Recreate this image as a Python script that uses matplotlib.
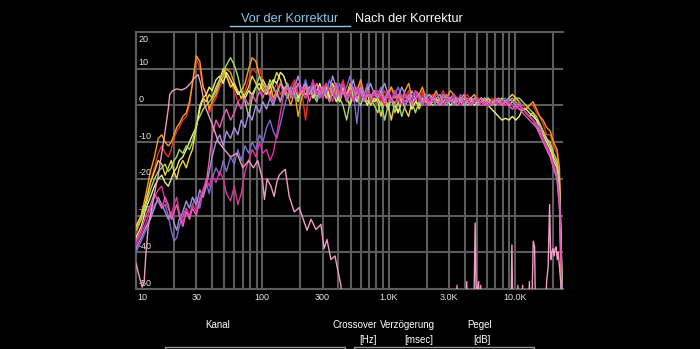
import matplotlib
matplotlib.use("Agg")
import matplotlib.pyplot as plt
from matplotlib.patches import Rectangle
from matplotlib.transforms import blended_transform_factory

plt.rcParams['font.family'] = ['Liberation Sans', 'DejaVu Sans']

# Frequenzraster (Hz), gemeinsam fuer die Hauptkanaele
freq = [10, 11, 12, 13, 14, 15, 16, 17, 18, 19, 20,
        21, 22, 23.5, 25, 26.5, 28, 30, 32, 34, 36, 38, 40,
        43, 46, 49, 52, 56, 60, 64, 68, 73, 78, 83, 89,
        95, 101, 108, 115, 122, 130, 139, 148, 158, 168, 180, 192, 205, 220, 236, 252, 270, 285,
        300, 320, 340, 360, 385, 410, 435, 465, 495, 525, 560, 600, 640, 680, 720, 770,
        820, 870, 930, 990, 1050, 1120, 1190, 1270, 1350, 1440, 1530, 1630, 1740, 1850, 1970, 2100,
        2240, 2380, 2540, 2700, 2880, 3070, 3270, 3480, 3700, 3950, 4200, 4480, 4770, 5080, 5410, 5760,
        6130, 6530, 6960, 7410, 7890, 8400, 8950, 9530, 10150, 10800, 11500, 12250,
        13000, 13900, 14800, 15700, 16700, 17800, 19000, 20200, 21500, 22500, 23300, 24000]

red = [-35, -31, -26, -21, -17, -13, -11, -13, -14, -12, -9,
       -7, -6, -4, -3, 0, 6, 13, 10, 5, 3, -2, 0,
       2, 5, 7, 8, 6, 4, 1, 2, 4, 7, 10, 9,
       10, 7, 5, 2, 4, 6, 3, 5, 2, 5, 7, 3, 4, -4, 5, 3, 6, 2,
       4, 6, 3, 5, 2, 4, 7, 3, 5, 2, 4, 6, 3, 5, 2, 4,
       3, 1, 4, 2, 5, 3, 1, 3, 2, 4, 1, 3, 2, 4, 1, 2,
       3, 1, 2, 4, 2, 1, 3, 2, 1, 2, 3, 1, 2, 1, 2, 0,
       1, 2, 0, 1, 2, 1, 0, 1, 2, 1, 0, -1,
       0, 0, -2, -3, -5, -8, -8, -11, -13, -20, -45, -60]

orange = [-33, -30, -24, -18, -14, -9, -8, -10, -11, -10, -8,
          -6, -5, -3, -2, 1, 6, 13.5, 12, 5, 3, -1, 1,
          3, 6, 8, 10, 9, 6, 3, 4, 6, 10, 13, 12,
          8, 5, 3, 6, 2, 4, 1, 5, 3, 0, 4, -3, 2, 5, 3, 6, 2, 4,
          3, 5, 2, 6, 4, 1, 5, 3, 6, 2, 4, 7, 3, 5, 2, 4,
          2, 4, 1, 3, 5, 2, 3, 1, 4, 6, 2, 4, 3, 5, 2, 3,
          2, 4, 1, 3, 2, 4, 3, 1, 2, 3, 1, 2, 3, 1, 2, 1,
          2, 0, 1, 2, 1, 0, 1, 2, 1, 0, -1, -1,
          0, 1, -1, -3, -4, -6, -7, -10, -12, -17, -40, -60]

yellow = [-33, -30, -26, -21, -18, -15, -16, -19, -17, -15, -18,
          -20, -17, -15, -17, -14, -12, -6, 0, 2, 1, 3, 2,
          5, 7, 10, 8, 5, 6, 4, 2, 3, 5, 8, 6,
          4, 7, 5, 3, 6, 9, 7, 4, 6, 3, 5, 2, 4, 6, 3, 5, 2, 4,
          5, 2, 4, 6, 3, 1, 4, 2, 5, 3, 1, 4, 2, 3, 0, 2,
          1, -3, 2, 0, -4, 1, -2, 2, -1, -3, 1, 2, -1, 1, 3, 0,
          2, 0, 1, 3, 1, 2, 0, 1, 2, 0, 1, 2, 1, 0, 1, 2,
          1, 0, 2, 1, 0, 1, 2, 3, 2, 1, -1, -2,
          -3, -2, -4, -5, -7, -9, -11, -14, -16, -22, -42, -60]

pale_yellow = [-36, -33, -28, -25, -22, -20, -19, -21, -22, -20, -18,
               -17, -15, -14, -12, -10, -8, -6, -1, 2, 3, 5, 4,
               7, 8, 6, 9, 7, 5, 3, 4, 2, 4, 3, 5,
               6, 4, 3, 5, 7, 6, 9, 8, 5, 3, 6, 2, 4, 3, 5, 2, 4, 6,
               3, 5, 2, 4, 1, 3, 5, 2, 0, 3, 1, 4, 2, 0, 3, 1,
               2, 0, 1, -1, 2, 0, -2, 1, 0, 2, -1, 1, 0, 2, 1, 0,
               1, 2, 0, 1, 2, 0, 1, 2, 1, 0, 1, 2, 0, 1, 2, 1,
               0, -1, -2, -3, -4, -3.5, -4, -3, -4, -3, -1, -1,
               -2, -3, -4, -6, -8, -10, -12, -15, -17, -24, -44, -60]

green = [-34, -31, -27, -23, -20, -18, -17, -16, -18, -17, -15,
         -14, -12, -13, -11, -12, -10, -5, -3, -1, 0, 1, 2,
         4, 7, 9, 11, 13, 11, 8, 4, 1, -3, 2, 5,
         8, 6, 4, 7, 5, 3, 6, 4, 2, 5, 3, 1, 4, 2, 5, 3, 1, 4,
         2, 4, 1, 3, 5, 2, 0, -4, 1, 4, 2, 0, 3, 1, 2, 0,
         -2, 1, -4, 0, 2, -2, 1, -3, 0, 2, 1, -2, 1, 0, 2, 1,
         0, 1, 2, 0, 1, 2, 1, 0, 1, 2, 0, 1, 2, 1, 0, 1,
         2, 1, 0, 1, 2, 1, 0, 1, 2, 2, 1, 0,
         -1, -2, -3, -5, -7, -9, -10, -13, -15, -21, -40, -60]

magenta = [-38, -35, -32, -28, -25, -23, -22, -26, -28, -30, -27,
           -25, -29, -32, -28, -30, -27, -29, -25, -23, -20, -22, -19,
           -21, -18, -20, -24, -26, -22, -27, -24, -18, -15, -12, -14,
           -10, -13, -12, -15, -13, -8, -2, 3, 5, 2, 6, 3, 5, 2, 4, 7, 3, 5,
           2, 6, 4, 1, 5, 3, 6, 2, 4, 1, 5, 3, 2, 4, 1, 3,
           4, 2, 0, 3, 1, 4, 2, 0, 3, 1, 2, 4, 1, 3, 0, 2,
           1, 3, 2, 0, 2, 1, 3, 2, 0, 1, 2, 0, 1, 2, 0, 1,
           0, 1, 2, 0, 1, 0, 1, 0, -1, 0, -1, -2,
           -3, -4, -5, -6, -9, -11, -13, -16, -19, -26, -50, -60]

hot_pink = [-37, -34, -30, -27, -24, -26, -28, -25, -27, -31, -29,
            -27, -30, -33, -29, -31, -28, -30, -26, -24, -21, -15, -8,
            -4, -6, -3, -1, -4, -2, 1, -1, 2, 0, 3, 1,
            4, 2, 5, 3, 1, 4, 6, 3, 5, 2, 4, 6, 3, 5, 1, 4, 6, 3,
            5, 3, 1, 4, 6, 2, 4, 1, 3, 5, 2, 4, 1, 3, 2, 4,
            2, 3, 1, 4, 2, 0, 3, 2, 1, 3, 0, 2, 3, 1, 2, 0,
            2, 1, 0, 2, 3, 1, 2, 0, 1, 3, 1, 0, 2, 1, 2, 0,
            1, 0, 1, 2, 0, 1, 0, -1, 0, -1, -2, -3,
            -4, -5, -6, -8, -10, -12, -14, -17, -20, -28, -50, -60]

purple = [-40, -37, -34, -30, -27, -26, -28, -27, -30, -34, -37,
          -36, -33, -30, -28, -31, -27, -25, -28, -23, -21, -24, -20,
          -17, -19, -15, -18, -14, -16, -12, -15, -11, -13, -10, -12,
          -8, -10, -6, -4, -7, -9, -5, -1, 3, 5, 2, 6, 4, 7, 3, 6, 4, 2,
          5, 3, 7, 4, 2, 6, 3, 5, 8, 4, -5, 5, 3, 6, 2, 4,
          3, 5, 2, 4, 1, 3, 5, 2, 0, 3, 1, 4, 2, 0, 3, 1,
          2, 0, 1, 3, 1, 2, 0, 1, 3, 1, 2, 0, 1, 2, 0, 1,
          1, 0, 1, 0, 1, 2, 0, -1, 0, 1, -1, -2,
          -3, -4, -6, -7, -9, -12, -14, -17, -20, -27, -45, -60]

lavender = [-39, -36, -33, -31, -28, -25, -27, -29, -31, -29, -32,
            -34, -31, -29, -26, -28, -25, -27, -23, -25, -22, -18, -14,
            -10, -8, -11, -7, -9, -6, -8, -4, -6, -2, -4, 0,
            -2, 1, -1, 2, 0, 3, 1, 4, 6, 3, 5, 8, 4, 6, 3, 5, 2, 4,
            3, 6, 4, 8, 5, 3, 6, 2, 4, 7, 3, 5, 2, 4, 6, 3,
            2, 4, 6, 3, 1, 4, 2, 5, 3, 1, 4, 2, 3, 1, 2, 3,
            1, 2, 3, 1, 0, 2, 3, 1, 2, 0, 1, 2, 1, 0, 1, 2,
            0, 1, 2, 1, 0, 1, 2, 1, 0, -1, -1, -2,
            -3, -4, -5, -7, -9, -11, -13, -16, -19, -25, -48, -60]

# Subwoofer-Kanal mit eigenem Raster
sub_freq = [10, 10.5, 11.2, 11.6, 12, 12.5, 13, 14, 15, 16, 17, 18, 18.5, 19.5, 21, 23, 25, 27, 29,
            31, 32.5, 35, 40, 45, 50, 56, 63, 70, 78, 85, 92,
            100, 104, 109, 117, 124, 130, 136, 145, 152, 163, 179, 196, 206, 226, 243, 266,
            291, 308, 325, 349, 376, 390, 419, 440,
            3400, 3480, 3560, 4050, 4150, 4250, 4700, 4840, 4980, 5050, 5150, 5250, 5350, 5450,
            9250, 9460, 9650, 10400, 10550, 10700, 11300, 11500, 11700,
            12700, 13000, 13300, 13700, 13950, 14300, 14600,
            17300, 17800, 18300, 18800, 19200, 19600, 20000, 20400, 20800, 21200,
            21600, 22000, 22500, 23000, 24000]
sub_db = [-43, -46, -49.5, -48, -40, -33, -30, -24, -19, -13, -7, -1, 3, 4, 4.5, 4.2, 4.8, 6, 7.5,
          8.4, 6, 0, -5, -10, -12, -14, -13, -17, -15, -17, -15,
          -20, -25.6, -20, -22, -24.8, -21, -19, -18, -17.4, -24.7, -29, -27.8, -30, -34, -31, -33.8,
          -32.4, -39, -36.5, -42, -41, -43.8, -49, -62,
          -62, -49, -62, -62, -48, -62, -62, -32, -62, -50, -48, -62, -49, -62,
          -62, -38, -62, -62, -49, -62, -62, -49, -62,
          -62, -48, -62, -50, -37, -38.5, -62,
          -62, -48, -44, -27, -42, -40, -39, -41, -39, -38.5,
          -42, -40, -44, -48, -62]

curves = [(red, '#e8302a'), (orange, '#f5a020'), (yellow, '#f1d63a'),
          (pale_yellow, '#eef27e'), (green, '#a6d96a'), (purple, '#7e6bd0'),
          (lavender, '#a890e0'), (magenta, '#e0329c'), (hot_pink, '#e85cb4')]

for vals, _ in curves:
    assert len(vals) == len(freq)
assert len(sub_db) == len(sub_freq)

grid_freqs = [10, 20, 30, 40, 50, 60, 70, 80, 90, 100, 200, 300, 400, 500, 600, 700, 800, 900,
              1000, 2000, 3000, 4000, 5000, 6000, 7000, 8000, 9000,
              10000, 20000]
x_labels = ['10', '30', '100', '300', '1.0K', '3.0K', '10.0K']
x_label_pos = [10, 30, 100, 300, 1000, 3000, 10000]
y_ticks = [-50, -40, -30, -20, -10, 0, 10, 20]

W, H = 700, 349
fig = plt.figure(figsize=(7, 3.49), dpi=100, facecolor='black')
ax = fig.add_axes([136 / W, 1 - 289 / H, 427 / W, 257 / H])
ax.set_facecolor('black')
ax.set_xscale('log')
ax.set_xlim(10, 24000)
ax.set_ylim(-50, 20)
ax.set_xticks(grid_freqs)
ax.minorticks_off()
ax.set_yticks(y_ticks)
ax.tick_params(length=0, labelbottom=False, labelleft=False)
ax.grid(True, color='#5c5c5c', linewidth=1.5, zorder=0)
ax.set_axisbelow(True)
for side in ['left', 'top', 'bottom']:
    ax.spines[side].set_color('#5c5c5c')
    ax.spines[side].set_linewidth(1.5)
ax.spines['right'].set_visible(False)

ytr = blended_transform_factory(ax.transAxes, ax.transData)
for v in y_ticks:
    if v == 20:
        ax.text(0.006, v - 0.8, str(v), transform=ytr, color='#e6e6e6', fontsize=6.5,
                va='top', ha='left', zorder=1)
    else:
        ax.text(0.006, v + 0.4, str(v), transform=ytr, color='#e6e6e6', fontsize=6.5,
                va='bottom', ha='left', zorder=1)

tr = blended_transform_factory(ax.transData, ax.transAxes)
for pos, lab in zip(x_label_pos, x_labels):
    ax.text(pos * (1.02 if pos == 10 else 1), -0.014, lab, transform=tr, color='#e6e6e6', fontsize=6.5,
            ha='left' if pos == 10 else 'center', va='top')

for vals, col in curves:
    ax.plot(freq, vals, color=col, linewidth=1.0, zorder=3)
ax.plot(sub_freq, sub_db, color='#f09cc4', linewidth=1.0, zorder=4)

# Reiter oben
fig.text(290 / W, 1 - 19 / H, 'Vor der Korrektur', color='#8cc8ec', fontsize=9.2, ha='center', va='center')
fig.text(408.5 / W, 1 - 19 / H, 'Nach der Korrektur', color='white', fontsize=9.2, ha='center', va='center')
fig.add_artist(plt.Line2D([230 / W, 350 / W], [1 - 25.5 / H, 1 - 25.5 / H], color='#8cc8ec',
                          linewidth=1.0, transform=fig.transFigure))

# Kopfzeile der Tabelle unten
header = [('Kanal', 218, 325), ('Crossover', 355, 325), ('Verzögerung', 407, 325), ('Pegel', 480, 325),
          ('[Hz]', 368, 340), ('[msec]', 419, 340), ('[dB]', 482, 340)]
for txt, x, y in header:
    fig.text(x / W, 1 - y / H, txt, color='white', fontsize=7, ha='center', va='center')

for x0, x1 in [(165, 345), (354, 534)]:
    fig.add_artist(Rectangle((x0 / W, -0.05), (x1 - x0) / W, 0.05 + 2 / H, transform=fig.transFigure,
                             fill=False, edgecolor='#9a9a9a', linewidth=1.0))

fig.savefig('out.png', dpi=100, facecolor='black')
